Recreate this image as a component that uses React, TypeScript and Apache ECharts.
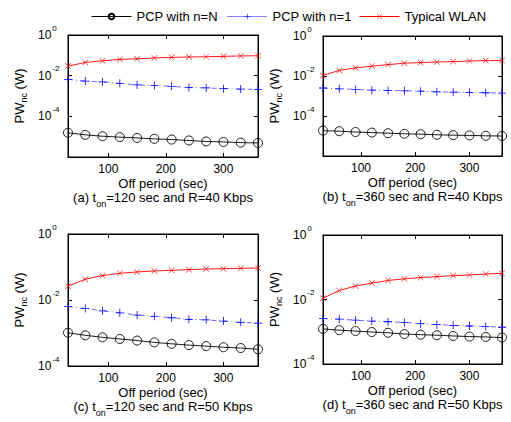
import React, { useEffect, useRef } from 'react';
import * as echarts from 'echarts';

const offPeriod = [30, 60, 90, 120, 150, 180, 210, 240, 270, 300, 330, 360];
const seriesNames = ['PCP with n=N', 'PCP with n=1', 'Typical WLAN'];
const panelLetters = ['(a)', '(b)', '(c)', '(d)'];
const tOnValues = [120, 360, 120, 360];
const rateValues = [40, 40, 50, 50];
const xTicks = [100, 200, 300];
const yMinValues = [1e-6, 1e-6, 1e-4, 1e-4];
const yLabelTicks = [1e-4, 1e-2, 1];

// (a) t_on=120, R=40
const pcpNA = [1.55e-5, 1.23e-5, 1.05e-5, 9.5e-6, 8.7e-6, 7.8e-6, 7.2e-6, 6.5e-6, 5.8e-6, 5.5e-6, 5.1e-6, 4.9e-6];
const pcp1A = [0.0066, 0.0054, 0.0049, 0.0042, 0.0035, 0.0033, 0.003, 0.0026, 0.0025, 0.0023, 0.0022, 0.0021];
const wlanA = [0.0295, 0.0447, 0.0537, 0.0631, 0.0676, 0.0741, 0.0794, 0.0832, 0.0851, 0.0891, 0.0933, 0.0955];
// (b) t_on=360, R=40
const pcpNB = [1.86e-5, 1.74e-5, 1.58e-5, 1.48e-5, 1.38e-5, 1.29e-5, 1.23e-5, 1.15e-5, 1.1e-5, 1.07e-5, 1.02e-5, 1.0e-5];
const pcp1B = [0.00251, 0.00229, 0.00214, 0.00195, 0.0019, 0.00182, 0.00174, 0.00162, 0.00155, 0.00151, 0.00145, 0.00138];
const wlanB = [0.0107, 0.019, 0.0257, 0.0309, 0.0372, 0.0437, 0.0468, 0.0501, 0.0525, 0.0562, 0.0589, 0.0603];
// (c) t_on=120, R=50
const pcpNC = [0.00102, 0.00085, 0.00074, 0.00066, 0.00059, 0.00052, 0.00047, 0.00043, 0.0004, 0.00037, 0.00035, 0.00032];
const pcp1C = [0.0063, 0.0055, 0.0047, 0.0041, 0.0035, 0.0032, 0.0029, 0.0026, 0.0025, 0.0023, 0.0021, 0.002];
const wlanC = [0.0263, 0.0427, 0.055, 0.0646, 0.0708, 0.0759, 0.0794, 0.0832, 0.0871, 0.0891, 0.0912, 0.0933];
// (d) t_on=360, R=50
const pcpND = [0.00123, 0.00112, 0.00105, 0.00098, 0.00093, 0.00085, 0.00081, 0.00078, 0.00074, 0.00071, 0.00069, 0.00066];
const pcp1D = [0.00257, 0.00245, 0.00229, 0.00214, 0.00204, 0.00195, 0.00178, 0.00166, 0.00158, 0.00151, 0.00145, 0.00138];
const wlanD = [0.011, 0.019, 0.0263, 0.0324, 0.0389, 0.0437, 0.0479, 0.0513, 0.055, 0.0575, 0.0617, 0.0646];

const panelData = [
  [pcpNA, pcp1A, wlanA],
  [pcpNB, pcp1B, wlanB],
  [pcpNC, pcp1C, wlanC],
  [pcpND, pcp1D, wlanD],
];

const FONT = '"Liberation Sans", Arial, Helvetica, sans-serif';
const PLUS = 'path://M0,4.5H10V5.5H0Z M4.5,0H5.5V10H4.5Z';
const CROSS = 'path://M0.6,0L5,4.4L9.4,0L10,0.6L5.6,5L10,9.4L9.4,10L5,5.6L0.6,10L0,9.4L4.4,5L0,0.6Z';

const grids = [
  { left: 68, top: 35, width: 190, height: 122 },
  { left: 323, top: 36, width: 179, height: 120 },
  { left: 68, top: 234, width: 190, height: 132 },
  { left: 323, top: 235, width: 179, height: 129 },
];

const seriesStyles = [
  { color: '#000000', symbol: 'circle', symbolSize: 9, lineType: 'solid' as any, width: 0.9 },
  { color: '#0000ff', symbol: PLUS, symbolSize: 8, lineType: [5, 3, 1, 3] as any, width: 0.6 },
  { color: '#ff0000', symbol: CROSS, symbolSize: 6, lineType: 'solid' as any, width: 0.9 },
];

function buildOption() {
  const xAxis: any[] = [];
  const yAxis: any[] = [];
  const series: any[] = [];
  const graphic: any[] = [];

  const tickLabelRich = {
    b: { fontSize: 12, fontFamily: FONT, color: '#000' },
    s: { fontSize: 8, fontFamily: FONT, color: '#000', padding: [0, 0, 14, 1] },
  };

  grids.forEach((g, i) => {
    const xBase = {
      gridIndex: i,
      type: 'value',
      min: 30,
      max: 360,
      splitLine: { show: false },
      axisLine: { show: true, onZero: false, lineStyle: { color: '#000', width: 1 } },
      axisTick: { show: true, inside: true, length: 4, customValues: xTicks, lineStyle: { color: '#000' } },
    };
    xAxis.push({
      ...xBase,
      position: 'bottom',
      axisLabel: { show: true, customValues: xTicks, color: '#000', fontSize: 12, fontFamily: FONT, margin: 6 },
      name: 'Off period (sec)',
      nameLocation: 'middle',
      nameGap: 20,
      nameTextStyle: { color: '#000', fontSize: 13, fontFamily: FONT },
    });
    xAxis.push({ ...xBase, position: 'top', axisLabel: { show: false } });

    const yBase = {
      gridIndex: i,
      type: 'log',
      logBase: 10,
      min: yMinValues[i],
      max: 1,
      splitLine: { show: false },
      axisLine: { show: true, onZero: false, lineStyle: { color: '#000', width: 1 } },
      axisTick: { show: true, inside: true, length: 4, customValues: yLabelTicks, lineStyle: { color: '#000' } },
    };
    yAxis.push({
      ...yBase,
      position: 'left',
      axisLabel: {
        show: true,
        customValues: yLabelTicks,
        align: 'left',
        margin: 30,
        formatter: (v: number) => {
          const e = Math.round(Math.log10(v));
          return `{b|10}{s|${e}}`;
        },
        rich: tickLabelRich,
      },
      name: '{n|PW}{s|nc}{n| (W)}',
      nameLocation: 'middle',
      nameGap: 40,
      nameRotate: 90,
      nameTextStyle: {
        rich: {
          n: { fontSize: 13, fontFamily: FONT, color: '#000' },
          s: { fontSize: 9, fontFamily: FONT, color: '#000', padding: [8, 0, 0, 0] },
        },
      },
    });
    yAxis.push({ ...yBase, position: 'right', axisLabel: { show: false } });

    panelData[i].forEach((vals, k) => {
      const st = seriesStyles[k];
      series.push({
        type: 'line',
        name: seriesNames[k],
        xAxisIndex: 2 * i,
        yAxisIndex: 2 * i,
        data: offPeriod.map((x, j) => [x, vals[j]]),
        symbol: st.symbol,
        symbolSize: st.symbolSize,
        showSymbol: true,
        clip: false,
        lineStyle: { color: st.color, width: st.width, type: st.lineType },
        itemStyle:
          k === 0
            ? { color: 'rgba(0,0,0,0)', borderColor: st.color, borderWidth: 0.9 }
            : { color: st.color, borderColor: st.color, borderWidth: 0 },
        emphasis: { disabled: true },
      });
    });

    graphic.push({
      type: 'text',
      x: g.left + g.width / 2,
      y: g.top + g.height + 40,
      style: {
        text: `{a|${panelLetters[i]} t}{s|on}{a|=${tOnValues[i]} sec and R=${rateValues[i]} Kbps}`,
        align: 'center',
        verticalAlign: 'middle',
        textAlign: 'center',
        textVerticalAlign: 'middle',
        rich: {
          a: { fontSize: 13, fontFamily: FONT, fill: '#000' },
          s: { fontSize: 9, fontFamily: FONT, fill: '#000', padding: [13, 0, 0, 0] },
        },
      },
    });
  });

  const legendLefts = [86, 222, 354];
  const legend = seriesNames.map((name, k) => ({
    data: [
      k === 1
        ? { name, lineStyle: { type: 'dotted', width: 1 } }
        : { name, lineStyle: { width: 1, type: 'solid' } },
    ],
    left: legendLefts[k],
    top: 5,
    itemWidth: 40,
    itemHeight: 7,
    selectedMode: false,
    lineStyle: { width: 1 },
    textStyle: { fontSize: 13, color: '#000', fontFamily: FONT },
  }));

  return {
    animation: false,
    backgroundColor: '#ffffff',
    textStyle: { fontFamily: FONT },
    grid: grids.map((g) => ({ ...g, show: true, borderColor: '#000', borderWidth: 1, backgroundColor: 'transparent' })),
    xAxis,
    yAxis,
    series,
    legend,
    graphic,
  };
}

export default function App() {
  const ref = useRef<HTMLDivElement>(null);
  useEffect(() => {
    if (!ref.current) return;
    const chart = echarts.init(ref.current, null, { renderer: 'svg' });
    chart.setOption(buildOption() as any);
    return () => chart.dispose();
  }, []);
  return (
    <div
      ref={ref}
      style={{ position: 'absolute', left: 0, top: 0, width: 511, height: 422, background: '#fff' }}
    />
  );
}
